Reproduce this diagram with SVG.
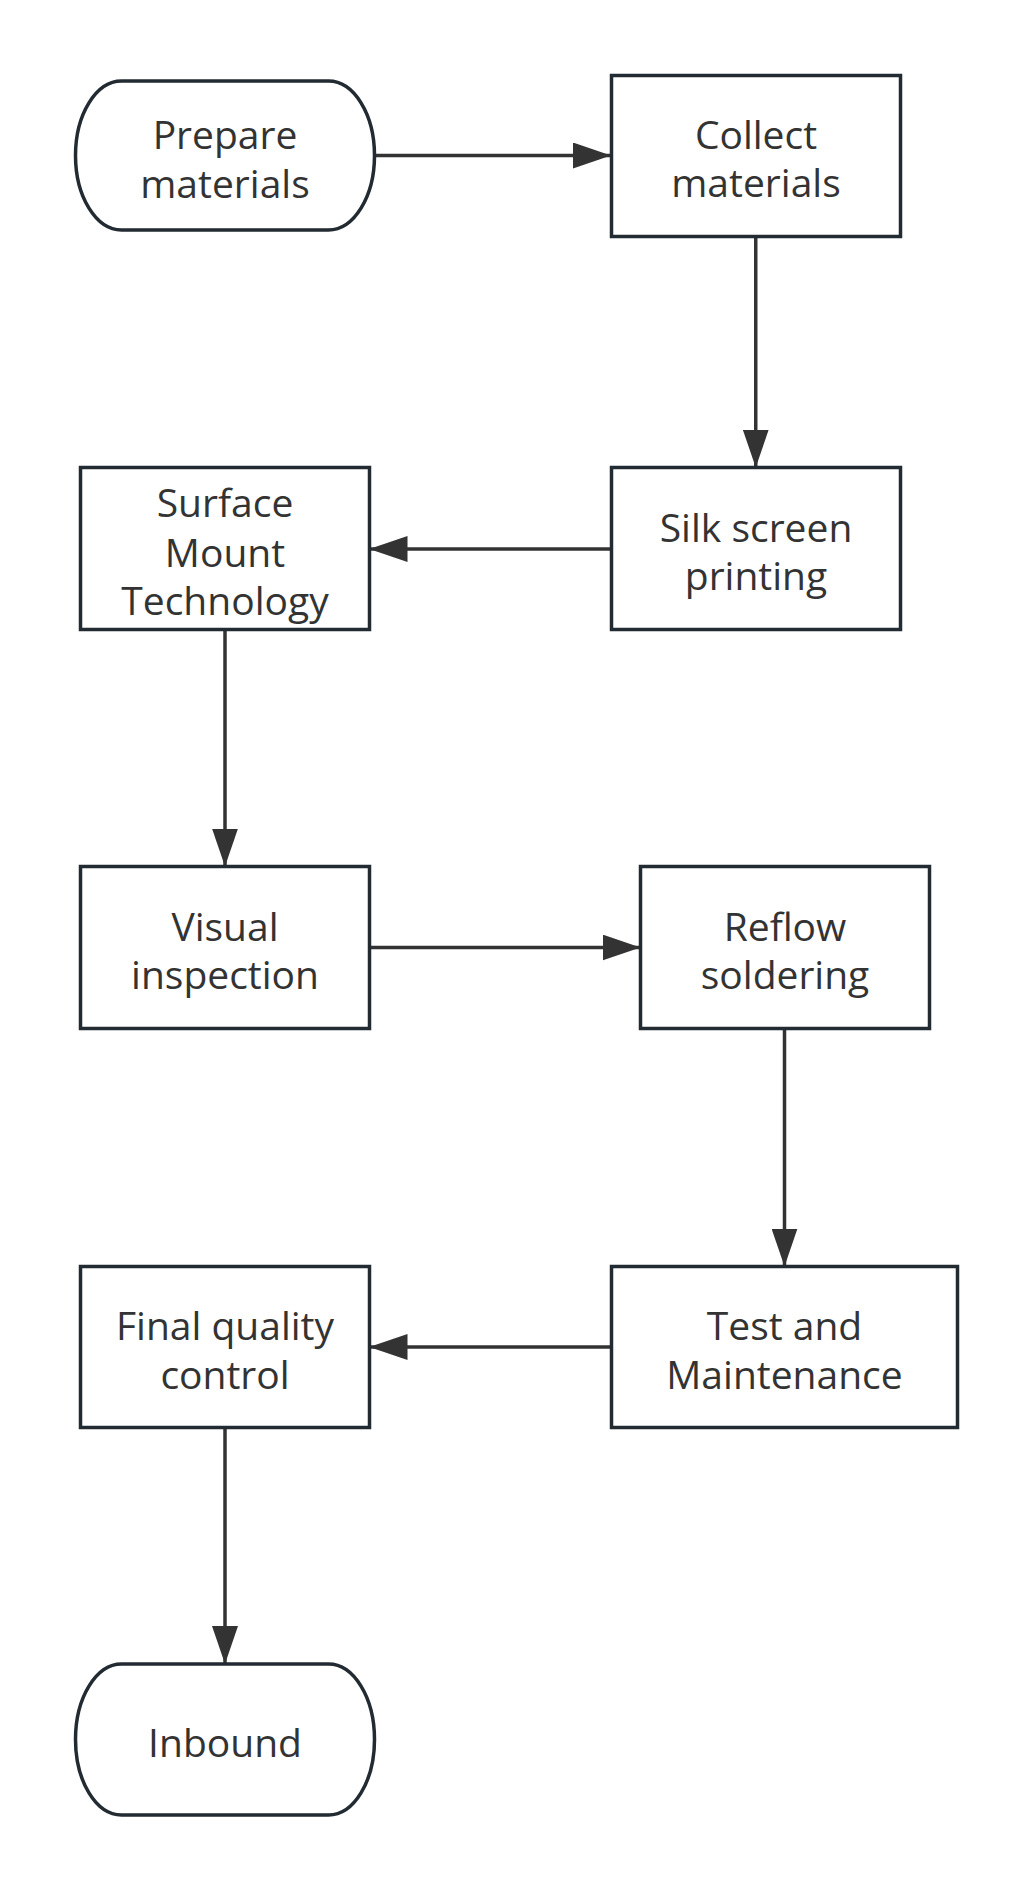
<svg xmlns="http://www.w3.org/2000/svg" width="1032" height="1890" viewBox="0 0 1032 1890">
<style>
.box{fill:#ffffff;stroke:#222a32;stroke-width:3.5}
.lbl{font-family:"Open Sans","Noto Sans","Liberation Sans",sans-serif;font-size:39px;fill:#333333;text-anchor:middle}
.conn{stroke:#333333;stroke-width:3.5;fill:none}
</style>
<defs>
<marker id="arr" markerUnits="userSpaceOnUse" markerWidth="38" markerHeight="26" refX="38" refY="13" orient="auto">
<path d="M0,0 L38,13 L0,26 Z" fill="#333333"/>
</marker>
</defs>
<rect width="1032" height="1890" fill="#ffffff"/>
<g id="connectors">
<path class="conn" d="M375.5,155.5 H611" marker-end="url(#arr)"/>
<path class="conn" d="M755.75,236.5 V467.5" marker-end="url(#arr)"/>
<path class="conn" d="M611.5,549 H369.5" marker-end="url(#arr)"/>
<path class="conn" d="M225,630 V866.5" marker-end="url(#arr)"/>
<path class="conn" d="M369.5,947.5 H640.5" marker-end="url(#arr)"/>
<path class="conn" d="M784.5,1028.5 V1266.5" marker-end="url(#arr)"/>
<path class="conn" d="M611.5,1347 H369.5" marker-end="url(#arr)"/>
<path class="conn" d="M225,1428 V1664" marker-end="url(#arr)"/>
</g>
<g id="prepare">
<rect class="box" x="75.5" y="81" width="299" height="149" rx="46" ry="74.5"/>
<text class="lbl"><tspan x="225" y="149">Prepare</tspan><tspan x="225" y="198">materials</tspan></text>
</g>
<g id="collect">
<rect class="box" x="611.5" y="75.5" width="289" height="161"/>
<text class="lbl"><tspan x="756" y="149">Collect</tspan><tspan x="756" y="197">materials</tspan></text>
</g>
<g id="silk">
<rect class="box" x="611.5" y="467.5" width="289" height="162"/>
<text class="lbl"><tspan x="756" y="542">Silk screen</tspan><tspan x="756" y="590">printing</tspan></text>
</g>
<g id="smt">
<rect class="box" x="80.5" y="467.5" width="289" height="162"/>
<text class="lbl"><tspan x="225" y="517">Surface</tspan><tspan x="225" y="567">Mount</tspan><tspan x="225" y="615">Technology</tspan></text>
</g>
<g id="visual">
<rect class="box" x="80.5" y="866.5" width="289" height="162"/>
<text class="lbl"><tspan x="225" y="941">Visual</tspan><tspan x="225" y="989">inspection</tspan></text>
</g>
<g id="reflow">
<rect class="box" x="640.5" y="866.5" width="289" height="162"/>
<text class="lbl"><tspan x="785" y="941">Reflow</tspan><tspan x="785" y="989">soldering</tspan></text>
</g>
<g id="test">
<rect class="box" x="611.5" y="1266.5" width="346" height="161"/>
<text class="lbl"><tspan x="784.5" y="1340">Test and</tspan><tspan x="784.5" y="1389">Maintenance</tspan></text>
</g>
<g id="final">
<rect class="box" x="80.5" y="1266.5" width="289" height="161"/>
<text class="lbl"><tspan x="225" y="1340">Final quality</tspan><tspan x="225" y="1389">control</tspan></text>
</g>
<g id="inbound">
<rect class="box" x="75.5" y="1664" width="299" height="151" rx="46" ry="75.5"/>
<text class="lbl" x="225" y="1757">Inbound</text>
</g>
</svg>
